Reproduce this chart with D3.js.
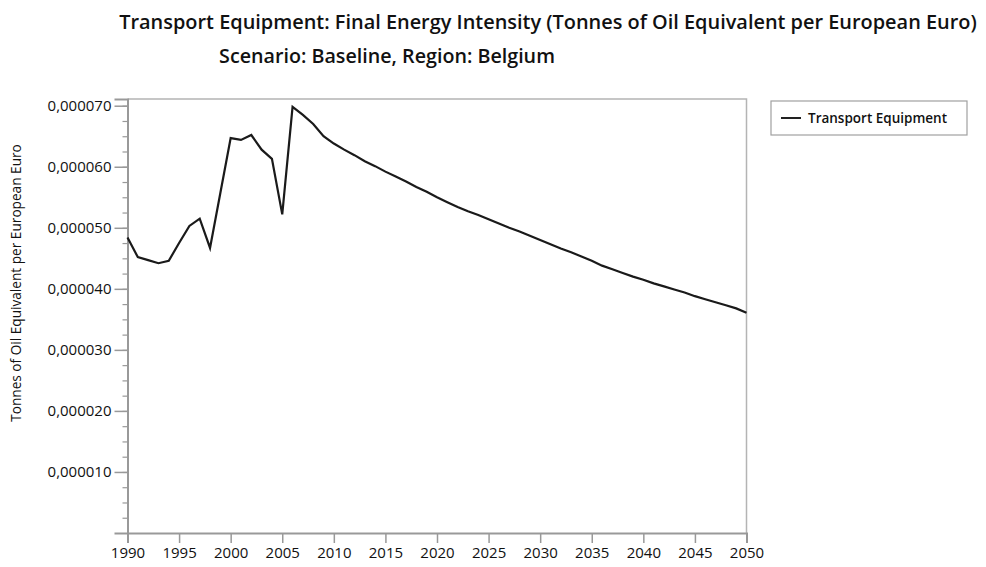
<!DOCTYPE html>
<html>
<head>
<meta charset="utf-8">
<script src="https://cdn.jsdelivr.net/npm/d3@7"></script>
<style>
  body { margin: 0; background: #fff; }
  text { font-family: "Open Sans", "Noto Sans", sans-serif; fill: #111; }
</style>
</head>
<body>
<div id="chart"></div>
<script>
// data
var years = d3.range(1990, 2051);
var intensity = [
  0.0000484, 0.0000452, 0.0000447, 0.0000442, 0.0000446, 0.0000475, 0.0000503, 0.0000515, 0.0000467, 0.0000557,
  0.0000647, 0.0000644, 0.0000652, 0.0000628, 0.0000613, 0.0000522, 0.0000698, 0.0000685, 0.0000670, 0.0000650,
  0.0000638, 0.0000628, 0.0000619, 0.0000609, 0.0000601, 0.0000592, 0.0000584, 0.0000576, 0.0000567, 0.0000559,
  0.0000550, 0.0000542, 0.0000534, 0.0000527, 0.0000521, 0.0000514, 0.0000507, 0.0000500, 0.0000494, 0.0000487,
  0.0000480, 0.0000473, 0.0000466, 0.0000460, 0.0000453, 0.0000446, 0.0000438, 0.0000432, 0.0000426, 0.0000420,
  0.0000415, 0.0000409, 0.0000404, 0.0000399, 0.0000394, 0.0000388, 0.0000383, 0.0000378, 0.0000373, 0.0000368,
  0.0000361
];
var xTicks = d3.range(1990, 2051, 5);
var yTicks = [0.00001, 0.00002, 0.00003, 0.00004, 0.00005, 0.00006, 0.00007];
var seriesName = "Transport Equipment";
var title = "Transport Equipment: Final Energy Intensity (Tonnes of Oil Equivalent per European Euro)";
var subtitle = "Scenario: Baseline, Region: Belgium";
var yLabel = "Tonnes of Oil Equivalent per European Euro";

var width = 986, height = 567;
var margin = { top: 99, right: 239.5, bottom: 34, left: 127.5 };
var w = width - margin.left - margin.right;
var h = height - margin.top - margin.bottom;

var svg = d3.select("#chart").append("svg")
  .attr("width", width)
  .attr("height", height);

svg.append("rect").attr("width", width).attr("height", height).attr("fill", "#fff");

// fit a text node to a target width by tweaking its font size
function fitText(sel, target) {
  var len = sel.node().getComputedTextLength();
  var size = parseFloat(sel.style("font-size"));
  sel.style("font-size", (size * target / len) + "px");
}

var t = svg.append("text")
  .attr("x", 548).attr("y", 29)
  .attr("text-anchor", "middle")
  .style("font-size", "18px").style("font-weight", 600)
  .text(title);
fitText(t, 858);

var st = svg.append("text")
  .attr("x", 387).attr("y", 63)
  .attr("text-anchor", "middle")
  .style("font-size", "14px").style("font-weight", 600)
  .text(subtitle);
fitText(st, 336);

var g = svg.append("g").attr("transform", "translate(" + margin.left + "," + margin.top + ")");

var x = d3.scaleLinear().domain([1990, 2050]).range([0, w]);
var y = d3.scaleLinear().domain([0, 0.0000711]).range([h, 0]);

// plot frame (top and right)
g.append("path")
  .attr("d", "M0,0H" + w + "V" + h)
  .attr("fill", "none").attr("stroke", "#b4b4b4").attr("stroke-width", 1.5);

// minor y ticks
var minor = d3.range(0.0000025, 0.0000711, 0.0000025);
g.append("g").attr("class", "minor")
  .call(d3.axisLeft(y).tickValues(minor).tickSize(5).tickFormat(""))
  .call(function (a) {
    a.select(".domain").remove();
    a.selectAll("line").attr("stroke", "#999").attr("stroke-width", 1.2);
  });

var fmt = d3.format(".6f");
var yAxis = g.append("g")
  .call(d3.axisLeft(y).tickValues(yTicks).tickSize(13).tickPadding(3)
    .tickFormat(function (d) { return fmt(d).replace(".", ","); }));
yAxis.selectAll("text").style("font-size", "15px").style("font-family", "\"Open Sans\", sans-serif");

var xAxis = g.append("g")
  .attr("transform", "translate(0," + h + ")")
  .call(d3.axisBottom(x).tickValues(xTicks).tickSize(10).tickPadding(4).tickFormat(d3.format("d")));
xAxis.selectAll("text").style("font-size", "15px").style("font-family", "\"Open Sans\", sans-serif");

[yAxis, xAxis].forEach(function (a) {
  a.select(".domain").attr("stroke", "#999").attr("stroke-width", 2);
  a.selectAll(".tick line").attr("stroke", "#999").attr("stroke-width", 1.5);
  a.selectAll("text").attr("fill", "#111");
});

var line = d3.line()
  .x(function (d, i) { return x(years[i]); })
  .y(function (d) { return y(d); });

g.append("path")
  .datum(intensity)
  .attr("d", line)
  .attr("fill", "none")
  .attr("stroke", "#1a1a1a")
  .attr("stroke-width", 2.2);

var yl = svg.append("text")
  .attr("transform", "translate(21,283) rotate(-90)")
  .attr("text-anchor", "middle")
  .style("font-size", "13.5px")
  .text(yLabel);
fitText(yl, 278);

// legend
var lg = svg.append("g").attr("transform", "translate(771,101)");
lg.append("rect")
  .attr("width", 196).attr("height", 34)
  .attr("fill", "#fff").attr("stroke", "#a0a0a0").attr("stroke-width", 1.2);
lg.append("line")
  .attr("x1", 10).attr("x2", 30).attr("y1", 17).attr("y2", 17)
  .attr("stroke", "#222").attr("stroke-width", 2);
lg.append("text")
  .attr("x", 37).attr("y", 21.5)
  .style("font-size", "13.5px").style("font-weight", 600)
  .text(seriesName);
</script>
</body>
</html>
